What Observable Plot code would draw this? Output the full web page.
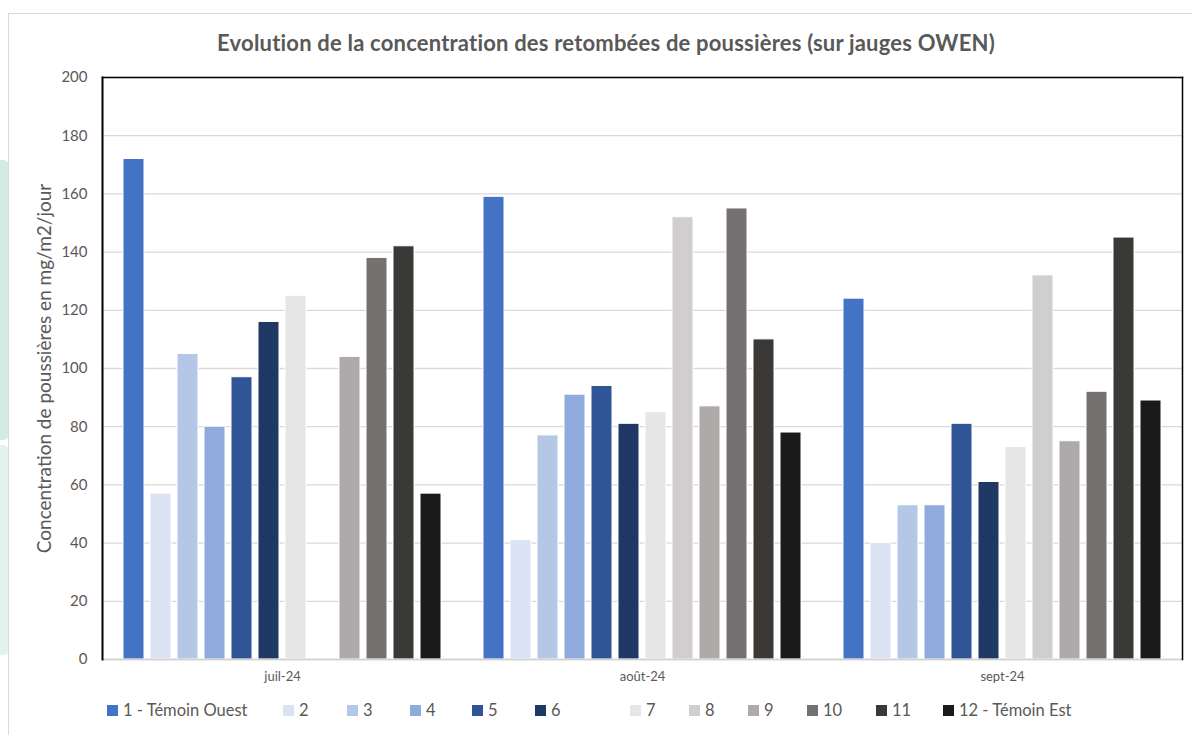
<!DOCTYPE html>
<html><head><meta charset="utf-8">
<script src="https://cdn.jsdelivr.net/npm/d3@7"></script>
<script src="https://cdn.jsdelivr.net/npm/@observablehq/plot@0.6"></script>
<style>
body{margin:0;background:#fff;font-family:Lato,"Open Sans",sans-serif;}
#wrap{position:relative;width:1192px;height:735px;overflow:hidden;background:#fff;}
.deco1{position:absolute;left:0;top:160px;width:9px;height:280px;background:#d3ebe0;border-radius:0 6px 6px 0;}
.deco2{position:absolute;left:0;top:445px;width:9px;height:210px;background:#e3f2ea;border-radius:0 6px 6px 0;}
.frameBorder{position:absolute;left:8px;top:13px;width:1200px;height:740px;border-left:1px solid #d9d9d9;border-top:1px solid #d9d9d9;}
#title{position:absolute;top:29px;left:20px;width:1172px;text-align:center;font-weight:bold;font-size:22px;letter-spacing:0.2px;color:#595959;}
#chart{position:absolute;left:0;top:60px;}
#legend{position:absolute;top:700px;left:0;width:1192px;height:22px;font-size:16.5px;color:#595959;}
.item{position:absolute;top:0;display:flex;align-items:center;white-space:nowrap;}
.sw{width:11px;height:11px;margin-right:5px;}
</style></head><body>
<div id="wrap">
  <div class="deco1"></div><div class="deco2"></div>
  <div class="frameBorder"></div>
  <div id="title">Evolution de la concentration des retombées de poussières (sur jauges OWEN)</div>
  <div id="chart"></div>
  <div id="legend"></div>
</div>
<script>
const months = ["juil-24", "août-24", "sept-24"];
const stations = ["1 - Témoin Ouest", "2", "3", "4", "5", "6", "7", "8", "9", "10", "11", "12 - Témoin Est"];
const julValues  = [172, 57, 105, 80, 97, 116, 125, null, 104, 138, 142, 57];
const aoutValues = [159, 41, 77, 91, 94, 81, 85, 152, 87, 155, 110, 78];
const septValues = [124, 40, 53, 53, 81, 61, 73, 132, 75, 92, 145, 89];
const stationColors = ["#4472C4", "#DAE3F3", "#B4C7E7", "#8FAADC", "#2F5597", "#203864",
                       "#E7E6E6", "#D0CECE", "#AEAAAA", "#767171", "#3B3838", "#1A1A1A"];
const yTicks = [0, 20, 40, 60, 80, 100, 120, 140, 160, 180, 200];
const yLabel = "Concentration de poussières en mg/m2/jour";

const seriesByMonth = [julValues, aoutValues, septValues];
const data = [];
months.forEach((m, i) => stations.forEach((s, j) => {
  const v = seriesByMonth[i][j];
  if (v != null) data.push({month: m, station: s, value: v});
}));

const plot = Plot.plot({
  width: 1192, height: 630,
  marginTop: 17, marginBottom: 31, marginLeft: 101, marginRight: 9,
  style: {fontFamily: "Lato, 'Open Sans', sans-serif", color: "#595959", background: "transparent", overflow: "visible"},
  fx: {domain: months, padding: 0, label: null},
  x: {domain: stations, paddingInner: 0.23, paddingOuter: 0.66, axis: null},
  y: {domain: [0, 200], label: null},
  color: {domain: stations, range: stationColors},
  marks: [
    Plot.gridY(yTicks, {stroke: "#d9d9d9", strokeOpacity: 1, strokeWidth: 1.3}),
    Plot.barY(data, {fx: "month", x: "station", y: "value", fill: "station", stroke: "#ffffff", strokeWidth: 1}),
    Plot.ruleY([0], {stroke: "#d0d0d0", strokeWidth: 1.6}),
    Plot.axisY(yTicks, {tickSize: 0, tickPadding: 15, fontSize: 15, label: yLabel, labelAnchor: "center", labelOffset: 65, labelArrow: "none"}),
    Plot.axisFx({anchor: "bottom", tickSize: 0, tickPadding: 12, fontSize: 13, label: null}),
    Plot.frame({anchor: "top", facet: "super", stroke: "#000", strokeWidth: 1.5}),
    Plot.frame({anchor: "left", facet: "super", stroke: "#000", strokeWidth: 2}),
    Plot.frame({anchor: "right", facet: "super", stroke: "#000", strokeWidth: 1.5})
  ]
});
plot.querySelectorAll("g[aria-label='y-axis label']").forEach(e => e.setAttribute("font-size", 19));
document.getElementById("chart").appendChild(plot);

const legendLeft = [107, 283, 347, 410, 472, 535, 630, 689, 748, 807, 876, 943];
const legend = document.getElementById("legend");
stations.forEach((s, i) => {
  const it = document.createElement("div");
  it.className = "item";
  it.style.left = legendLeft[i] + "px";
  it.innerHTML = `<span class="sw" style="background:${stationColors[i]}"></span><span>${s}</span>`;
  legend.appendChild(it);
});
</script>
</body></html>
